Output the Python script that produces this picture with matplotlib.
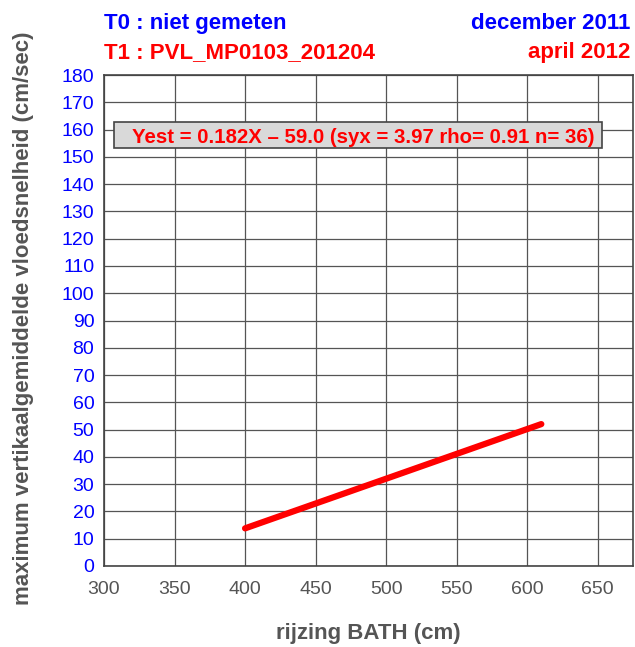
import matplotlib.pyplot as plt
from matplotlib.patches import Rectangle

# data
x_fit = [400, 610]
slope = 0.182
intercept = -59.0
y_fit = [slope * x + intercept for x in x_fit]
x_ticks = list(range(300, 651, 50))
y_ticks = list(range(0, 181, 10))

plt.rcParams['font.family'] = ['Liberation Sans', 'DejaVu Sans']

W, H = 635, 647
fig = plt.figure(figsize=(W / 100, H / 100), dpi=100)
ax = fig.add_axes([104 / W, 1 - 566 / H, (633 - 104) / W, (566 - 75) / H])

ax.plot(x_fit, y_fit, color='#ff0000', lw=4.5, solid_capstyle='round', zorder=3)

ax.set_xlim(300, 675)
ax.set_ylim(0, 180)
ax.set_xticks(x_ticks)
ax.set_yticks(y_ticks)
ax.grid(True, color='#555555', lw=0.9)
ax.set_axisbelow(True)
for s in ax.spines.values():
    s.set_color('#444444')
    s.set_linewidth(1.2)
ax.tick_params(axis='x', colors='#555555', labelsize=14, length=0, pad=11)
ax.tick_params(axis='y', colors='#0000ff', labelsize=14, length=0, pad=7)
for lbl in ax.get_xticklabels():
    lbl.set_color('#555555')
for lbl in ax.get_yticklabels():
    lbl.set_color('#0000ff')

# axis titles
fig.text(368 / W, 1 - 633 / H, 'rijzing BATH (cm)', ha='center', va='center',
         fontsize=16, fontweight='bold', color='#555555')
fig.text(24 / W, 1 - 318 / H, 'maximum vertikaalgemiddelde vloedsnelheid (cm/sec)',
         ha='center', va='center', rotation=90,
         fontsize=16, fontweight='bold', color='#555555')

# regression box
ax.add_patch(Rectangle((0.019, 0.851), 0.922, 0.053, transform=ax.transAxes,
                       facecolor='#d9d9d9', edgecolor='#444444', lw=1.2, zorder=4))
ax.text(484, 155.1, 'Yest = 0.182X \u2013 59.0 (syx = 3.97 rho= 0.91 n= 36)',
        ha='center', va='baseline', fontsize=14.7, fontweight='bold', color='#ff0000',
        zorder=5)

fig.text(104 / W, 1 - 29 / H, 'T0 : niet gemeten', ha='left', va='baseline',
         fontsize=16, fontweight='bold', color='#0000ff')
fig.text(104 / W, 1 - 58 / H, 'T1 : PVL_MP0103_201204', ha='left', va='baseline',
         fontsize=16, fontweight='bold', color='#ff0000')
fig.text(630 / W, 1 - 29 / H, 'december 2011', ha='right', va='baseline',
         fontsize=16, fontweight='bold', color='#0000ff')
fig.text(630 / W, 1 - 58 / H, 'april 2012', ha='right', va='baseline',
         fontsize=16, fontweight='bold', color='#ff0000')

fig.savefig('out.png', dpi=100)
